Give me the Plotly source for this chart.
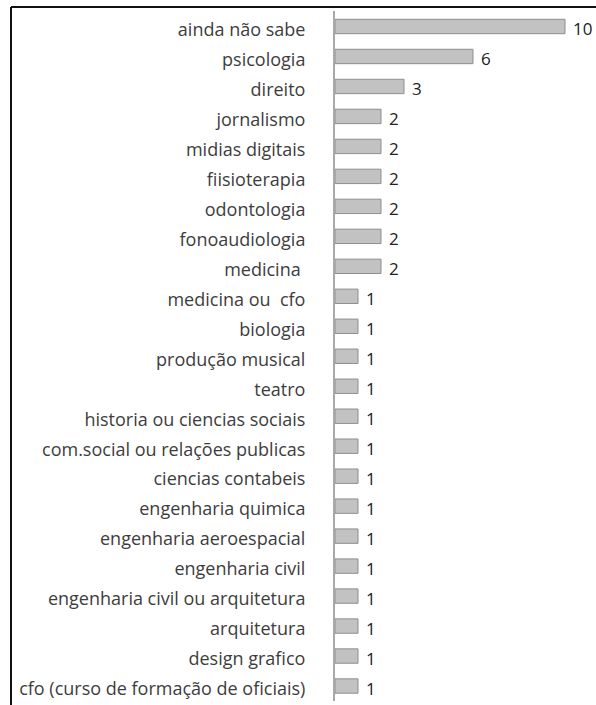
import plotly.graph_objects as go

# Cursos pretendidos (top to bottom) e número de respostas
cursos = [
    "ainda não sabe", "psicologia", "direito", "jornalismo", "midias digitais",
    "fiisioterapia", "odontologia", "fonoaudiologia", "medicina ", "medicina ou  cfo",
    "biologia", "produção musical", "teatro", "historia ou ciencias sociais",
    "com.social ou relações publicas", "ciencias contabeis", "engenharia quimica",
    "engenharia aeroespacial", "engenharia civil", "engenharia civil ou arquitetura",
    "arquitetura", "design grafico", "cfo (curso de formação de oficiais)",
]
respostas = [10, 6, 3, 2, 2, 2, 2, 2, 2, 1, 1, 1, 1, 1, 1, 1, 1, 1, 1, 1, 1, 1, 1]

W, H = 596, 705
L, R, T, B = 335, 0, 11, 4
plot_w = W - L - R
plot_h = H - T - B
px_per_unit = 23.0
x_max = plot_w / px_per_unit

text_color = "#3d3d3d"
font_family = "Open Sans, Lato, sans-serif"

fig = go.Figure(
    go.Bar(
        x=respostas,
        y=cursos,
        orientation="h",
        marker=dict(color="#c2c2c2", line=dict(color="#8e8e8e", width=1)),
        hoverinfo="x+y",
    )
)

# value labels just past the end of each bar
for c, v in zip(cursos, respostas):
    fig.add_annotation(
        x=v, y=c, text=str(v), showarrow=False,
        xanchor="left", xshift=6, yshift=-2,
        font=dict(size=17, color="#222222", family=font_family),
    )

def px_to_paper_x(px):
    return (px - L) / plot_w

def px_to_paper_y(py):
    return (H - B - py) / plot_h

# frame lines along the top and left edges
frame = dict(color="#111111", width=2)
fig.add_shape(type="line", xref="paper", yref="paper",
              x0=px_to_paper_x(11), x1=px_to_paper_x(W + 5),
              y0=px_to_paper_y(7), y1=px_to_paper_y(7), line=frame)
fig.add_shape(type="line", xref="paper", yref="paper",
              x0=px_to_paper_x(11), x1=px_to_paper_x(11),
              y0=px_to_paper_y(7), y1=px_to_paper_y(H + 5), line=frame)

fig.update_layout(
    width=W, height=H,
    margin=dict(l=L, r=R, t=T, b=B, pad=0),
    paper_bgcolor="white", plot_bgcolor="white",
    bargap=0.52,
    showlegend=False,
    font=dict(family=font_family, color=text_color),
)
fig.update_xaxes(range=[0, x_max], visible=False, fixedrange=True)
fig.update_yaxes(
    autorange="reversed",
    showline=True, linecolor="#a9a9a9", linewidth=2,
    showgrid=False, zeroline=False,
    ticks="", ticklabelstandoff=24, ticklabelshift=-3,
    tickfont=dict(size=18, color=text_color, family=font_family),
    fixedrange=True,
)

fig.write_html("out.html")
